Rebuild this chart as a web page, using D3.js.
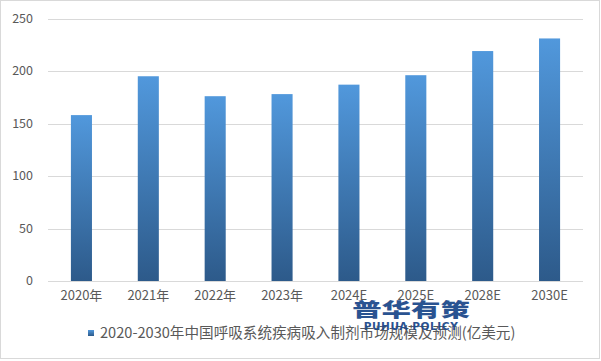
<!DOCTYPE html>
<html><head><meta charset="utf-8">
<script src="https://cdn.jsdelivr.net/npm/d3@7"></script>
<style>body{margin:0;background:#fff}svg{display:block}</style>
</head><body>
<svg id="c" width="601" height="361"></svg>
<script>
const categories = ["2020年","2021年","2022年","2023年","2024E","2025E","2028E","2030E"];
const values = [158, 195, 176, 178, 187, 196, 219, 231];
const yTicks = [0, 50, 100, 150, 200, 250];
const seriesName = "2020-2030年中国呼吸系统疾病吸入制剂市场规模及预测(亿美元)";

const svg = d3.select("#c");
const W = 601, H = 361;
const font = "'Noto Sans CJK SC','Noto Sans',sans-serif";
svg.append("rect").attr("x",0.5).attr("y",0.5).attr("width",W-2).attr("height",H-3)
  .attr("fill","#fff").attr("stroke","#d9d9d9");

const defs = svg.append("defs");
const g = defs.append("linearGradient").attr("id","bg").attr("x1",0).attr("y1",0).attr("x2",0).attr("y2",1);
g.append("stop").attr("offset","0%").attr("stop-color","#5198dc");
g.append("stop").attr("offset","100%").attr("stop-color","#2d5a8a");
const lg = defs.append("linearGradient").attr("id","lg").attr("x1",0).attr("y1",0).attr("x2",0).attr("y2",1);
lg.append("stop").attr("offset","0%").attr("stop-color","#5198dc");
lg.append("stop").attr("offset","100%").attr("stop-color","#2d5a8a");

const x = d3.scaleBand().domain(categories).range([48, 583]).paddingInner(0.685).paddingOuter(0.3425);
const y = d3.scaleLinear().domain([0, 250]).range([281, 18.5]);

svg.append("g").selectAll("line").data(yTicks).join("line")
  .attr("x1",48).attr("x2",583).attr("y1",d=>Math.round(y(d))+0.5).attr("y2",d=>Math.round(y(d))+0.5)
  .attr("stroke","#d9d9d9").attr("stroke-width",1);

svg.append("g").selectAll("text").data(yTicks).join("text")
  .attr("x",33).attr("y",d=>y(d)).attr("dy","0.35em").attr("text-anchor","end")
  .attr("font-family",font).attr("font-size",12.5).attr("fill","#595959").text(d=>d);

svg.append("g").selectAll("rect").data(values).join("rect")
  .attr("x",(d,i)=>x(categories[i])).attr("width",x.bandwidth())
  .attr("y",d=>y(d)).attr("height",d=>y(0)-y(d)).attr("fill","url(#bg)");

svg.append("g").selectAll("text").data(categories).join("text")
  .attr("x",d=>x(d)+x.bandwidth()/2).attr("y",300).attr("text-anchor","middle")
  .attr("font-family",font).attr("font-size",13).attr("fill","#595959").text(d=>d);

// legend
svg.append("rect").attr("x",88).attr("y",330).attr("width",6).attr("height",6).attr("fill","url(#lg)");
svg.append("text").attr("x",100).attr("y",333).attr("dy","0.35em")
  .attr("font-family",font).attr("font-size",14.6).attr("fill","#595959").text(seriesName);

// watermark
const wm = svg.append("g").attr("opacity",0.95);
wm.append("text").attr("transform","translate(411,317) scale(1.55,1)").attr("text-anchor","middle")
  .attr("font-family",font).attr("font-weight","900").attr("font-size",19).attr("fill","#1e4a8c").text("普华有策");
wm.append("text").attr("x",411).attr("y",330).attr("text-anchor","middle")
  .attr("font-family","'DejaVu Sans',sans-serif").attr("font-weight","bold").attr("font-size",10.5)
  .attr("letter-spacing",0.6).attr("fill","#1e4a8c").text("PUHUA POLICY");
</script>
</body></html>
